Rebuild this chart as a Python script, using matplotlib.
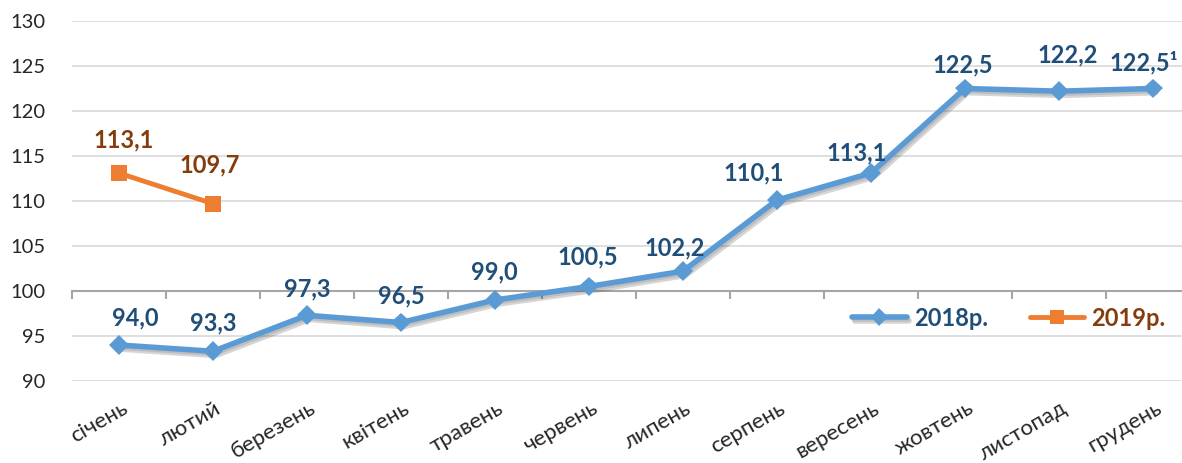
import matplotlib.pyplot as plt
import matplotlib.patheffects as pe
import matplotlib.transforms as mtransforms

# data
months = ['січень', 'лютий', 'березень', 'квітень', 'травень', 'червень',
          'липень', 'серпень', 'вересень', 'жовтень', 'листопад', 'грудень']
vals_2018 = [94.0, 93.3, 97.3, 96.5, 99.0, 100.5, 102.2, 110.1, 113.1, 122.5, 122.2, 122.5]
vals_2019 = [113.1, 109.7]
labels_2018 = ['94,0', '93,3', '97,3', '96,5', '99,0', '100,5', '102,2', '110,1',
               '113,1', '122,5', '122,2', '122,5¹']
labels_2019 = ['113,1', '109,7']

# label offsets in pixels (dx, dy) from the point
off_2018 = [(16, 27), (0, 28), (0, 26), (0, 27), (-1, 28), (-1, 30), (-8, 23),
            (-23, 27), (-14, 20), (-2, 24), (9, 36), (-9, 26)]
off_2019 = [(5, 33), (-3, 39)]

blue = '#5B9BD5'
blue_dark = '#1F4E79'
orange = '#ED7D31'
brown = '#843C0C'
fnt = ['Lato', 'DejaVu Sans']
plt.rcParams['font.family'] = fnt

fig = plt.figure(figsize=(11.82, 4.63), dpi=100)
ax = fig.add_axes([72 / 1182, 82 / 463, 1110 / 1182, 360 / 463])

ax.set_yticks(range(90, 131, 5))
for y in range(90, 131, 5):
    if y != 100:
        ax.axhline(y, color='#D9D9D9', lw=1.2, zorder=0)
ax.tick_params(axis='y', length=0, pad=19, labelsize=14.5, labelcolor='#262626')

for s in ['top', 'right', 'left']:
    ax.spines[s].set_visible(False)
ax.spines['bottom'].set_position(('data', 100))
ax.spines['bottom'].set_color('#A6A6A6')
ax.spines['bottom'].set_linewidth(1.5)
ax.set_xticks([i - 0.5 for i in range(12)])
ax.set_xticklabels([])
ax.tick_params(axis='x', direction='out', length=6, width=1.5, color='#A6A6A6')
ax.set_xlim(-0.5, 11.31)
ax.set_ylim(90, 130)

shadow = [pe.SimpleLineShadow(offset=(2, -3), shadow_color='#404040', alpha=0.22),
          pe.SimpleLineShadow(offset=(1, -1.5), shadow_color='#404040', alpha=0.15),
          pe.Normal()]
x18 = list(range(len(vals_2018)))
x19 = list(range(len(vals_2019)))
ax.plot(x18, vals_2018, color=blue, lw=4, marker='D', ms=10, mec=blue, mfc=blue, mew=0,
        solid_capstyle='round', path_effects=shadow, label='2018р.', zorder=3)
ax.plot(x19, vals_2019, color=orange, lw=3.5, marker='s', ms=11, mec=orange, mfc=orange,
        mew=0, solid_capstyle='round', label='2019р.', zorder=3)

for x, y, t, (dx, dy) in zip(x18, vals_2018, labels_2018, off_2018):
    ax.annotate(t, (x, y), xytext=(dx, dy), textcoords='offset pixels', ha='center',
                va='center', fontsize=17, fontweight='bold', color=blue_dark)
for x, y, t, (dx, dy) in zip(x19, vals_2019, labels_2019, off_2019):
    ax.annotate(t, (x, y), xytext=(dx, dy), textcoords='offset pixels', ha='center',
                va='center', fontsize=17, fontweight='bold', color=brown)

# category labels at the bottom
trans = mtransforms.blended_transform_factory(ax.transData, ax.transAxes)
for i, m in enumerate(months):
    ax.annotate(m, (i, 0), xycoords=trans, xytext=(2, -17), textcoords='offset pixels',
                ha='right', va='top', rotation=30, rotation_mode='anchor',
                fontsize=16, color='#262626')

leg = ax.legend(loc='center left', bbox_to_anchor=(831 / 1182, (463 - 318) / 463),
                bbox_transform=fig.transFigure, ncol=2, frameon=False,
                handlelength=2.3, columnspacing=1.8, handletextpad=0.3, markerscale=0.9,
                prop={'weight': 'bold', 'size': 17, 'family': fnt})
for txt, c in zip(leg.get_texts(), [blue_dark, brown]):
    txt.set_color(c)

fig.savefig('out.png', dpi=100)
